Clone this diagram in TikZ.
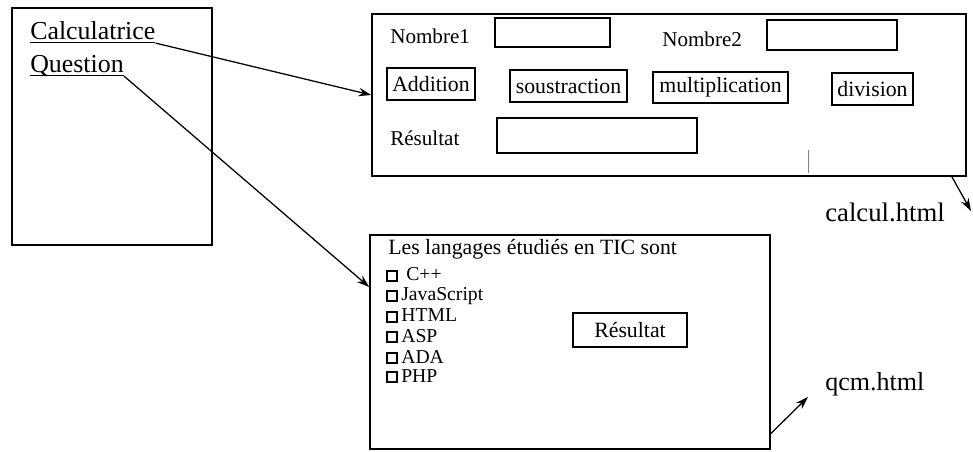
\documentclass[tikz,border=0pt]{standalone}
\usepackage{fontspec}
\setmainfont{Liberation Serif}
\usetikzlibrary{calc, arrows.meta}

\newcommand{\pxu}{0.025cm}

\begin{document}
\begin{tikzpicture}[
    x=0.025cm, y=-0.025cm,
    >={Stealth[length=9pt, width=6pt]},
    font=\fontsize{15.5}{17}\selectfont,
    win/.style={draw, line width=1.1pt, inner sep=0pt},
    field/.style={draw, line width=1.6pt, inner sep=0pt},
    btn/.style={draw, line width=1.4pt, inner sep=0pt},
    lbl/.style={anchor=base west, inner sep=0pt},
    item/.style={lbl, font=\fontsize{14}{15}\selectfont},
    chk/.style={draw, line width=1.6pt, inner sep=0pt, minimum size=9.5*\pxu},
    link/.style={->, line width=0.9pt}
]
    \useasboundingbox (0,0) rectangle (973,452);

    % Menu page (left)
    \node[win, minimum width=200*\pxu, minimum height=237*\pxu] (menu) at (112,126.5) {};
    \node[lbl, font=\fontsize{18.4}{20}\selectfont] (calclink) at (30,40) {\underline{\smash{Calculatrice}}};
    \node[lbl, font=\fontsize{18.4}{20}\selectfont] (qcmlink) at (30,73) {\underline{\smash{Question}}};

    % Calculator page (top right)
    \node[win, minimum width=594*\pxu, minimum height=162*\pxu] (calcbox) at (669,95) {};
    \node[lbl, font=\fontsize{15}{17}\selectfont] (nb1) at (390,44) {Nombre1};
    \node[field, minimum width=115*\pxu, minimum height=29*\pxu] (nb1field) at (552.5,32.5) {};
    \node[lbl, font=\fontsize{15}{17}\selectfont] (nb2) at (662,47) {Nombre2};
    \node[field, minimum width=130*\pxu, minimum height=30*\pxu] (nb2field) at (832,35) {};

    \node[btn, minimum width=88*\pxu, minimum height=32*\pxu] (add) at (431,84) {Addition};
    \node[btn, minimum width=117*\pxu, minimum height=32*\pxu] (sub) at (568.5,86) {soustraction};
    \node[btn, minimum width=135*\pxu, minimum height=31*\pxu] (mul) at (720.5,87.5) {multiplication};
    \node[btn, minimum width=81*\pxu, minimum height=32*\pxu] (div) at (872.5,89) {division};

    \node[lbl, font=\fontsize{15}{17}\selectfont] (res) at (390,146) {Résultat};
    \node[field, minimum width=200*\pxu, minimum height=35*\pxu] (resfield) at (597,135.5) {};
    \draw[gray, line width=0.6pt] (808,150) -- (808,173);

    % QCM page (bottom)
    \node[win, minimum width=400*\pxu, minimum height=214*\pxu] (qcmbox) at (570,342) {};
    \node[lbl] (intro) at (388,255) {Les langages étudiés en TIC sont};
    \node[chk] (cb1) at (392,276) {};
    \node[chk] (cb2) at (392,296) {};
    \node[chk] (cb3) at (392,317) {};
    \node[chk] (cb4) at (392,337) {};
    \node[chk] (cb5) at (392,358) {};
    \node[chk] (cb6) at (392,377) {};
    \node[item] (cpp) at (406,281) {C++};
    \node[item] (js) at (401,301) {JavaScript};
    \node[item] (html) at (401,322) {HTML};
    \node[item] (asp) at (401,342) {ASP};
    \node[item] (ada) at (401,363) {ADA};
    \node[item] (php) at (401,382) {PHP};
    \node[btn, minimum width=114*\pxu, minimum height=34*\pxu] (qcmres) at (630,330) {Résultat};

    % File names
    \node[lbl, font=\fontsize{19}{21}\selectfont] (calcfile) at (825,222) {calcul.html};
    \node[lbl, font=\fontsize{18.5}{20}\selectfont] (qcmfile) at (825,390) {qcm.html};
    \coordinate (calctip) at (971,211);
    \coordinate (qcmtip) at (808,397);

    % Links
    \draw[link] (calclink.south east) -- (calcbox.west);
    \draw[link] (qcmlink.south east) -- ($(qcmbox.north west)!0.245!(qcmbox.south west)$);
    \draw[link] ($(calcbox.south west)!0.975!(calcbox.south east)$) -- (calctip);
    \draw[link] ($(qcmbox.north east)!0.925!(qcmbox.south east)$) -- (qcmtip);

\end{tikzpicture}
\end{document}
